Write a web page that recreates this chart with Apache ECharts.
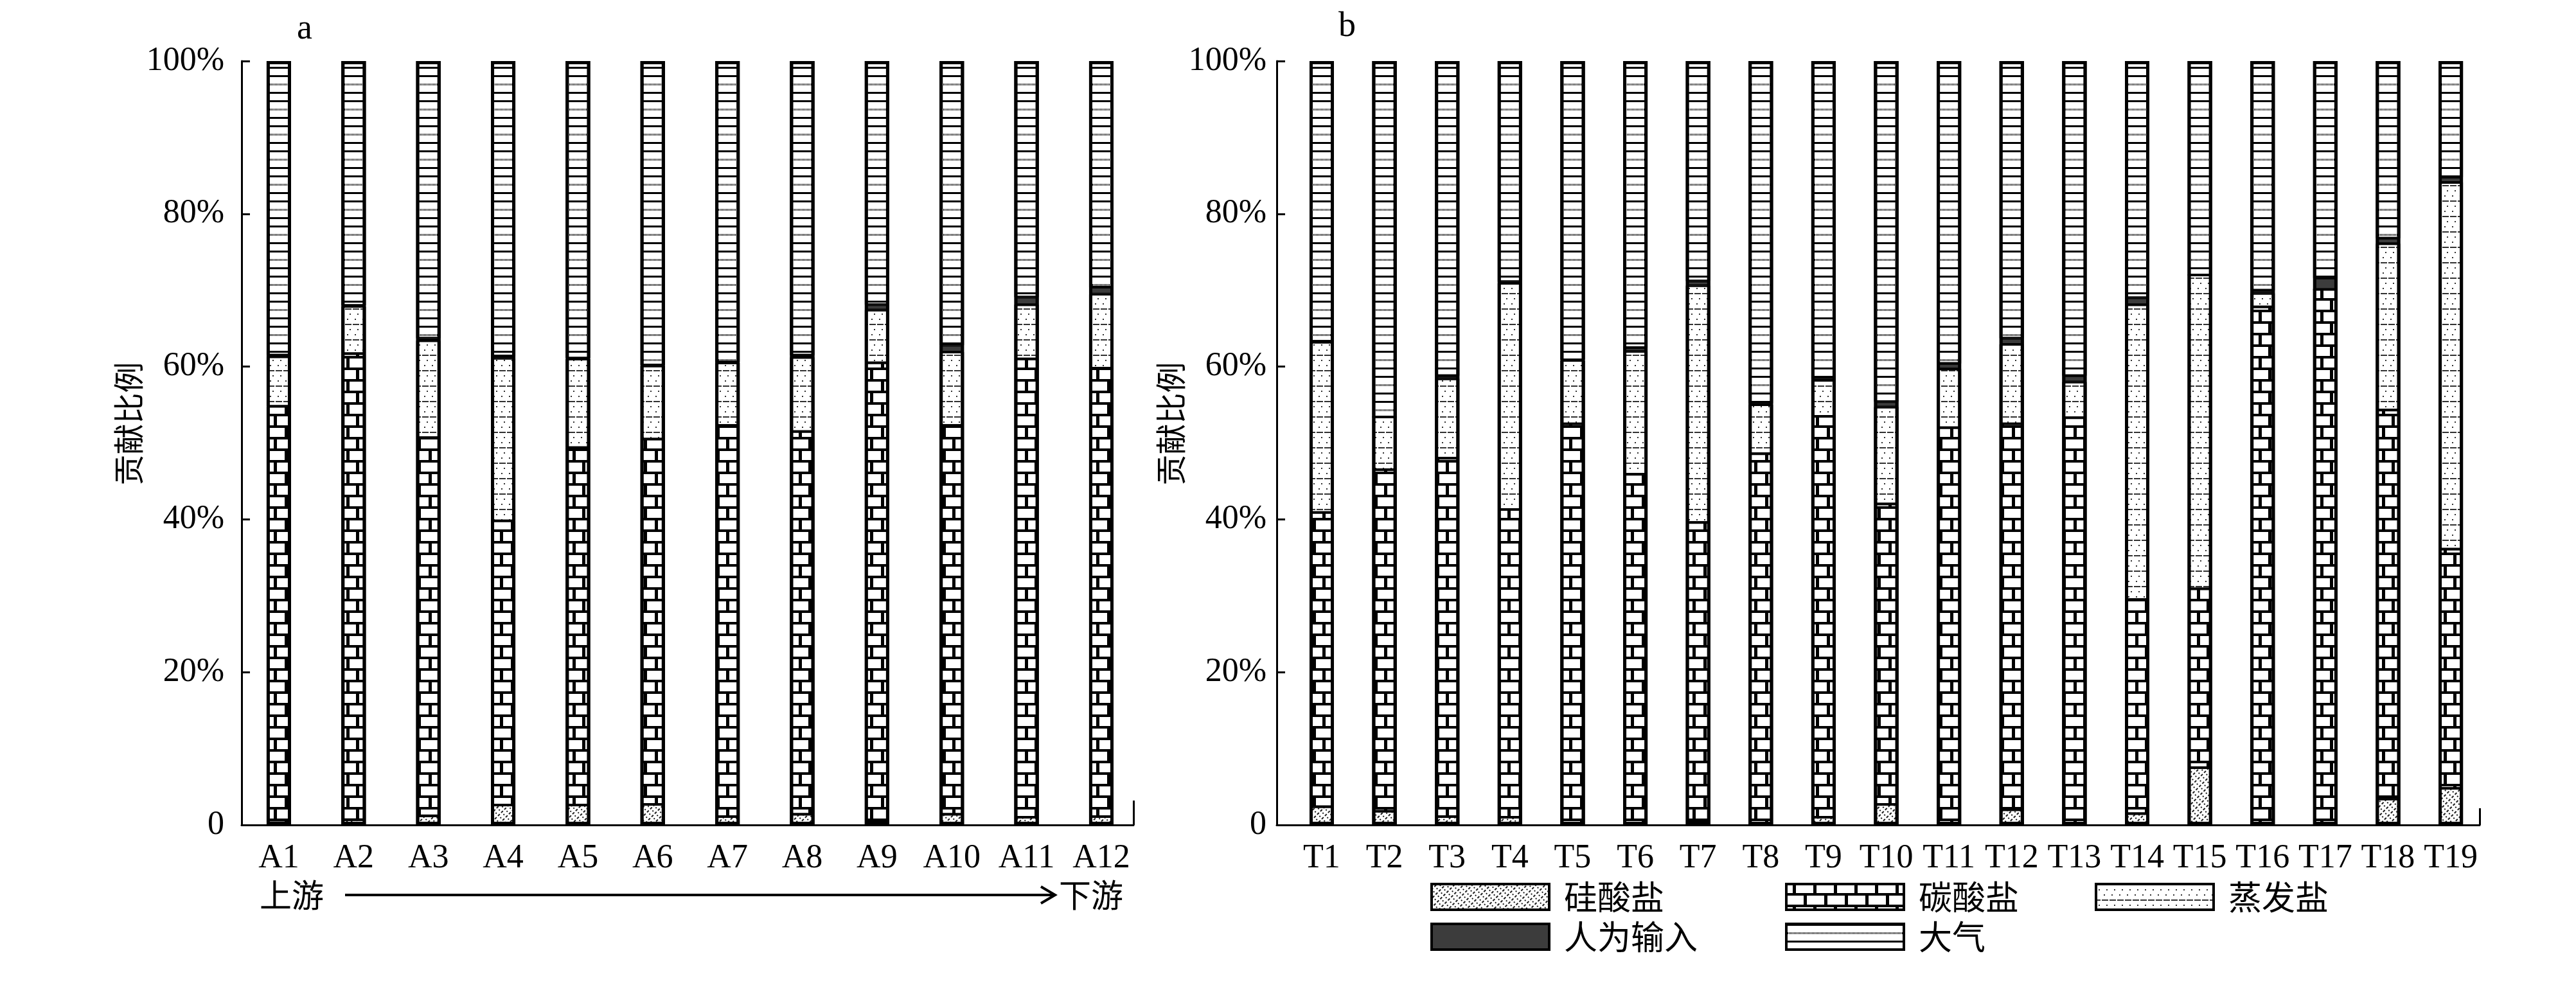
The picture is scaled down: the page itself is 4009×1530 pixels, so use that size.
<!DOCTYPE html>
<html><head><meta charset="utf-8">
<script src="https://cdn.jsdelivr.net/npm/echarts@6/dist/echarts.min.js"></script>
<style>html,body{margin:0;padding:0;background:#fff}#c{width:4009px;height:1530px}</style>
</head><body><div id="c"></div>
<script>
// ---------- data ----------
const seriesNames = ['硅酸盐', '碳酸盐', '蒸发盐', '人为输入', '大气'];
const yTicks = [0, 20, 40, 60, 80, 100];

const catsA = ['A1','A2','A3','A4','A5','A6','A7','A8','A9','A10','A11','A12'];
const silA  = [0.3, 0.7, 1.2, 2.6, 2.6, 2.7, 1.1, 1.4, 0.5, 1.4, 1.0, 1.1];
const carbA = [54.5, 61.0, 49.5, 37.2, 46.8, 47.8, 51.2, 50.1, 60.0, 50.9, 60.0, 58.7];
const evapA = [6.5, 6.2, 12.7, 21.3, 11.6, 9.6, 8.2, 9.7, 6.9, 9.6, 7.1, 9.7];
const anthA = [0.2, 0.1, 0.3, 0.3, 0.1, 0.1, 0.1, 0.3, 0.7, 0.9, 1.0, 0.9];
const atmA  = [38.5, 32.0, 36.3, 38.6, 38.9, 39.8, 39.4, 38.5, 31.9, 37.2, 30.9, 29.6];

const catsB = ['T1','T2','T3','T4','T5','T6','T7','T8','T9','T10','T11','T12','T13','T14','T15','T16','T17','T18','T19'];
const silB  = [2.4, 1.8, 1.1, 1.0, 0, 0, 0.4, 0, 1.0, 2.7, 0, 2.0, 0, 1.5, 7.5, 0, 0, 3.4, 4.8];
const carbB = [38.5, 44.7, 46.9, 40.3, 52.5, 45.9, 39.2, 48.6, 52.5, 39.3, 52.0, 50.5, 53.3, 28.0, 23.4, 67.8, 70.1, 50.9, 31.3];
const evapB = [22.3, 6.9, 10.4, 29.6, 8.3, 16.1, 31.0, 6.4, 4.7, 12.7, 7.7, 10.4, 4.7, 38.6, 41.1, 1.8, 0, 21.8, 48.0];
const anthB = [0.1, 0.0, 0.4, 0.2, 0.1, 0.5, 0.6, 0.2, 0.2, 0.7, 0.7, 0.8, 0.8, 0.9, 0.0, 0.4, 1.5, 0.7, 0.7];
const atmB  = [36.7, 46.6, 41.2, 28.9, 39.1, 37.5, 28.8, 44.8, 41.6, 44.6, 39.6, 36.3, 41.2, 31.0, 28.0, 30.0, 28.4, 23.2, 15.2];

// ---------- styles ----------
const SERIF = "'Liberation Serif','Times New Roman',serif";
const CJK = "'Noto Sans CJK SC',sans-serif";
const segStyles = [
  { color: '#ffffff', borderColor: '#000', borderWidth: 2,
    decal: { symbol: 'rect', symbolSize: 1, color: '#1a1a1a', dashArrayX: [[4, 3], [2, 5]], dashArrayY: [2, 3], rotation: -Math.PI / 4 } },
  { color: '#000000', borderColor: '#000', borderWidth: 2,
    decal: { symbol: 'rect', symbolSize: 1, color: '#ffffff', dashArrayX: [[27, 5], [10, 5, 17, 0]], dashArrayY: [14, 4] } },
  { color: '#ffffff', borderColor: '#000', borderWidth: 2,
    decal: { symbol: 'rect', symbolSize: 1, color: '#333333', dashArrayX: [[2, 10], [7, 2, 3, 0], [0, 4, 2, 6]], dashArrayY: [2, 6] } },
  { color: '#3c3c3c', borderColor: '#000', borderWidth: 2 },
  { color: '#ffffff', borderColor: '#000', borderWidth: 2,
    decal: { symbol: 'rect', symbolSize: 1, color: '#000000', dashArrayX: [[1, 0], [1, 0], [1, 1]], dashArrayY: [3, 10] } }
];

const panels = [
  { cats: catsA, vals: [silA, carbA, evapA, anthA, atmA], min: 0.502, max: 12.43, tickLen: 38, labelMargin: 27, nameGap: 150 },
  { cats: catsB, vals: [silB, carbB, evapB, anthB, atmB], min: 0.283, max: 19.46, tickLen: 26, labelMargin: 16, nameGap: 122 }
];

const grids = [
  { left: 376, top: 95, width: 1388, height: 1189 },
  { left: 1987, top: 95, width: 1872, height: 1189 }
];

const xAxes = [], yAxes = [], series = [];
panels.forEach((p, gi) => {
  const pos = p.cats.map((c, i) => i + 1);
  xAxes.push({
    type: 'value', gridIndex: gi, min: p.min, max: p.max,
    splitLine: { show: false },
    axisLine: { show: true, lineStyle: { color: '#000', width: 3 } },
    axisTick: { show: true, inside: true, length: p.tickLen, customValues: [p.max - 0.001], lineStyle: { color: '#000', width: 3 } },
    axisLabel: { customValues: pos, margin: 26, color: '#000', fontSize: 52, fontFamily: SERIF,
      formatter: v => p.cats[Math.round(v) - 1] }
  });
  yAxes.push({
    type: 'value', gridIndex: gi, min: 0, max: 100, interval: 20,
    splitLine: { show: false },
    axisLine: { show: true, lineStyle: { color: '#000', width: 3 } },
    axisTick: { show: true, inside: true, length: 13, lineStyle: { color: '#000', width: 3 } },
    axisLabel: { margin: p.labelMargin, color: '#000', fontSize: 52, fontFamily: SERIF,
      formatter: v => (v === 0 ? '0' : v + '%') },
    name: '贡献比例', nameLocation: 'middle', nameRotate: 90, nameGap: p.nameGap,
    nameTextStyle: { color: '#000', fontSize: 48, fontFamily: CJK, padding: [0, 0, 0, 60] }
  });
  // data rows are [value, position]; encode maps position to x so the stack runs along y
  p.vals.forEach((arr, k) => {
    series.push({
      type: 'bar', name: seriesNames[k], xAxisIndex: gi, yAxisIndex: gi, stack: 'S' + gi,
      encode: { x: 1, y: 0 },
      barWidth: 38, barGap: '-100%', silent: true,
      itemStyle: segStyles[k],
      data: arr.map((v, i) => [v, pos[i]])
    });
  });
  series.push({
    type: 'bar', name: 'frame' + gi, xAxisIndex: gi, yAxisIndex: gi,
    encode: { x: 1, y: 0 },
    barWidth: 38, barGap: '-100%', silent: true, z: 3,
    itemStyle: { color: 'rgba(0,0,0,0)', borderColor: '#000', borderWidth: 5 },
    data: pos.map((x, i) => [p.vals.reduce((s, a) => s + a[i], 0), x])
  });
});

const legendBase = {
  icon: 'rect', itemWidth: 183, itemHeight: 40, padding: 0, selectedMode: false,
  itemStyle: { borderColor: '#000', borderWidth: 4 },
  textStyle: { fontSize: 52, fontFamily: CJK, color: '#000', lineHeight: 60, padding: [0, 0, 0, 18] }
};
const legendPos = [[2226, 1366], [2778, 1366], [3260, 1366], [2226, 1428], [2778, 1428]];
const legends = seriesNames.map((n, k) => Object.assign({}, legendBase, { data: [n], left: legendPos[k][0], top: legendPos[k][1] }));

const chart = echarts.init(document.getElementById('c'), null, { renderer: 'canvas' });
chart.setOption({
  animation: false,
  backgroundColor: '#fff',
  title: [
    { text: 'a', left: 457, top: 14, textStyle: { fontSize: 54, fontWeight: 'normal', fontFamily: SERIF, color: '#000' } },
    { text: 'b', left: 2078, top: 10, textStyle: { fontSize: 54, fontWeight: 'normal', fontFamily: SERIF, color: '#000' } }
  ],
  legend: legends,
  grid: grids,
  xAxis: xAxes,
  yAxis: yAxes,
  series: series,
  graphic: [
    { type: 'text', left: 404, top: 1368, style: { text: '上游', fontSize: 50, fontFamily: CJK, fill: '#000' } },
    { type: 'text', left: 1648, top: 1368, style: { text: '下游', fontSize: 50, fontFamily: CJK, fill: '#000' } },
    { type: 'line', shape: { x1: 537, y1: 1393, x2: 1640, y2: 1393 }, style: { stroke: '#000', lineWidth: 4 } },
    { type: 'polyline', shape: { points: [[1620, 1380], [1642, 1393], [1620, 1406]] }, style: { stroke: '#000', lineWidth: 4, fill: null } }
  ]
});
</script></body></html>
